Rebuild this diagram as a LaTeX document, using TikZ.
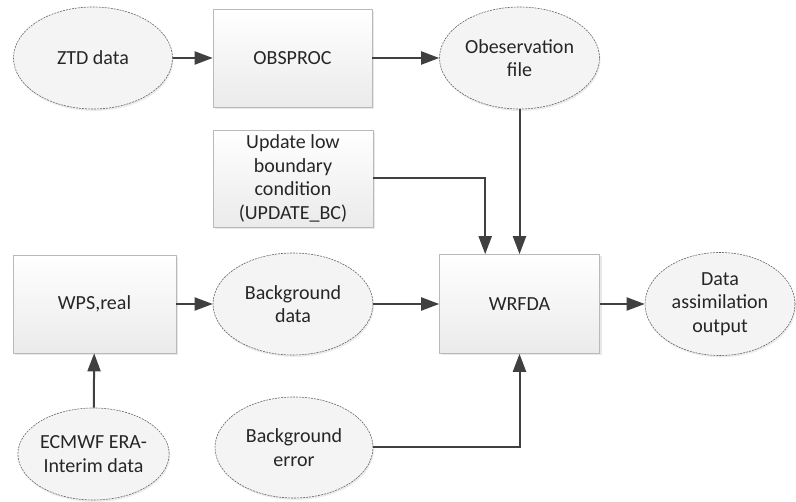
\documentclass[tikz,border=0pt]{standalone}
\usepackage{fontspec}
\setmainfont{Carlito}
\usetikzlibrary{shapes.geometric,arrows.meta,shadows,calc}
\definecolor{linec}{HTML}{404040}
\definecolor{textc}{HTML}{262626}
\begin{document}
\begin{tikzpicture}[x=1pt,y=-1pt,
  font=\fontsize{20}{23.5}\selectfont,
  procbox/.style={rectangle,draw=gray!55,line width=0.6pt,top color=white,bottom color=gray!16,
    inner sep=0pt,align=center,text=textc,
    drop shadow={shadow xshift=2pt,shadow yshift=-2pt,opacity=0.18,fill=gray}},
  databub/.style={ellipse,draw=linec!80,line width=0.6pt,dash pattern=on 2pt off 1pt,
    fill=gray!9,inner sep=0pt,align=center,text=textc,
    drop shadow={shadow xshift=1pt,shadow yshift=-2pt,opacity=0.15,fill=gray}},
  arr/.style={draw=linec,line width=2pt,-{Triangle[length=18pt,width=13pt]}}]
\useasboundingbox (0,0) rectangle (796,502);
\node[databub,minimum width=159pt,minimum height=102pt] (ztd) at (93,58) {ZTD data};
\node[procbox,minimum width=159pt,minimum height=98pt] (obsproc) at (292.5,58) {OBSPROC};
\node[databub,minimum width=160pt,minimum height=102pt] (obsfile) at (519.5,58) {Obeservation\\file};
\node[procbox,minimum width=160pt,minimum height=97pt] (update) at (293,178.5) {Update low\\boundary\\condition\\(UPDATE\_BC)};
\node[procbox,minimum width=163pt,minimum height=98pt] (wps) at (94.5,304) {WPS,real};
\node[databub,minimum width=160pt,minimum height=102pt] (bgdata) at (293,304) {Background\\data};
\node[procbox,minimum width=160pt,minimum height=99pt] (wrfda) at (519.5,304) {WRFDA};
\node[databub,minimum width=150pt,minimum height=103pt] (dao) at (720,304) {Data\\assimilation\\output};
\node[databub,minimum width=143pt,minimum height=92pt] (ecmwf) at (93.5,454) {ECMWF ERA-\\Interim data};
\node[databub,minimum width=158pt,minimum height=101pt] (bgerr) at (294,447.5) {Background\\error};
\coordinate (updin) at ($(wrfda.north west)+(46pt,0)$);
\draw[arr] (ztd) -- (obsproc);
\draw[arr] (obsproc) -- (obsfile);
\draw[arr] (obsfile) -- (wrfda);
\draw[arr] (update.east) -| (updin);
\draw[arr] (wps) -- (bgdata);
\draw[arr] (bgdata) -- (wrfda);
\draw[arr] (wrfda) -- (dao);
\draw[arr] (ecmwf) -- (wps);
\draw[arr] (bgerr.east) -| (wrfda.south);
\end{tikzpicture}
\end{document}
